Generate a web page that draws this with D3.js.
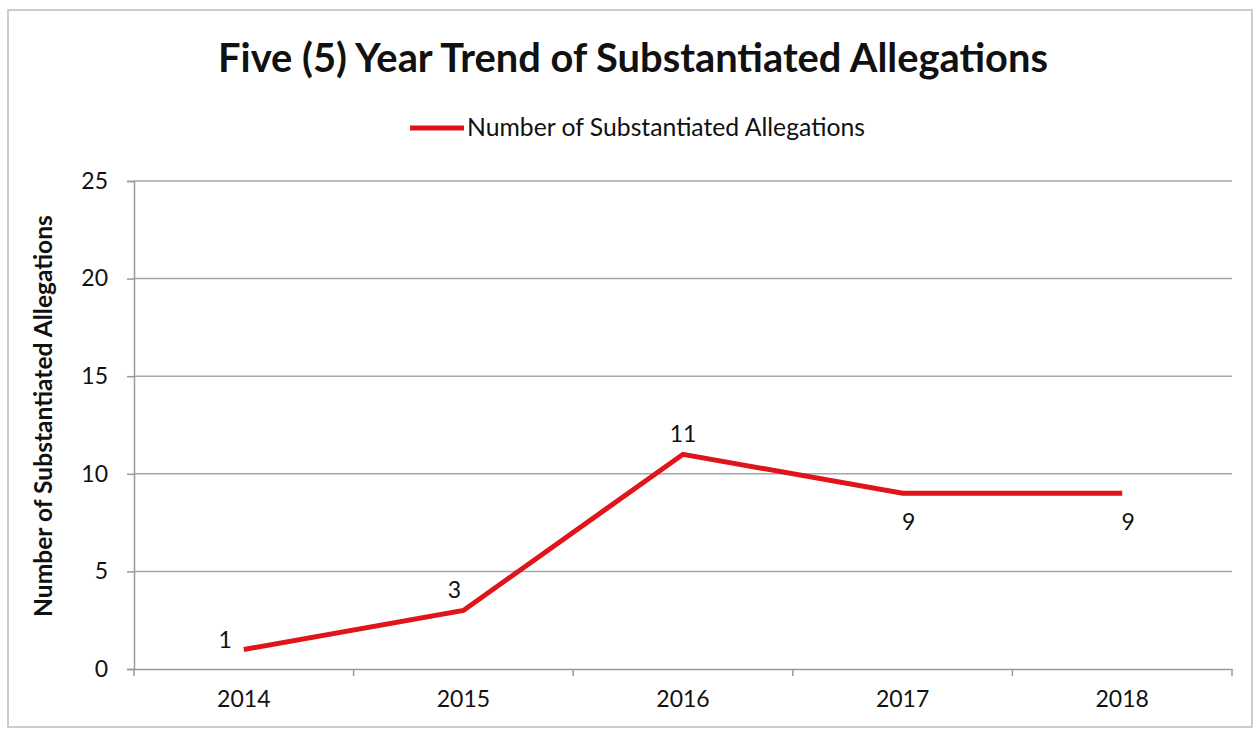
<!DOCTYPE html>
<html><head><meta charset="utf-8">
<script src="https://cdn.jsdelivr.net/npm/d3@7"></script>
<style>body{margin:0;background:#fff}svg{display:block}text{font-family:Lato,"Open Sans",sans-serif;fill:#111}</style>
</head><body><svg id="c" width="1255" height="730"></svg>
<script>
const title = "Five (5) Year Trend of Substantiated Allegations";
const seriesName = "Number of Substantiated Allegations";
const yAxisTitle = "Number of Substantiated Allegations";
const categories = ["2014","2015","2016","2017","2018"];
const values = [1,3,11,9,9];
const yTicks = [0,5,10,15,20,25];
const labelPlacement = ["left","above","above","below","below"];

const svg = d3.select("#c");
function fit(sel, target){
  const fs = parseFloat(sel.style("font-size"));
  const w = sel.node().getComputedTextLength();
  sel.style("font-size", (fs*target/w).toFixed(2)+"px");
}
svg.append("rect").attr("x",8).attr("y",10).attr("width",1244).attr("height",717)
  .attr("fill","#fff").attr("stroke","#bdbdbd").attr("stroke-width",1.5);

const m = {l:134, r:1232, t:181, b:669};
const x = d3.scaleBand().domain(categories).range([m.l,m.r]).padding(0);
const y = d3.scaleLinear().domain([0,25]).range([m.b,m.t]);
const FS = "23px";

svg.append("g").selectAll("line").data(yTicks.filter(d=>d>0)).join("line")
  .attr("x1",m.l).attr("x2",m.r).attr("y1",d=>y(d)).attr("y2",d=>y(d))
  .attr("stroke","#a6a6a6").attr("stroke-width",1.5);

const ya = svg.append("g").attr("transform",`translate(${m.l},0)`)
  .call(d3.axisLeft(y).tickValues(yTicks).tickSize(7).tickPadding(19));
ya.select(".domain").attr("stroke","#9a9a9a").attr("stroke-width",1.5);
ya.selectAll(".tick line").attr("stroke","#9a9a9a").attr("stroke-width",1.5);
ya.selectAll(".tick text").style("font-size",FS).attr("fill","#111");

const xa = svg.append("g").attr("transform",`translate(0,${m.b})`)
  .call(d3.axisBottom(x).tickSize(0).tickPadding(22));
xa.select(".domain").attr("stroke","#9a9a9a").attr("stroke-width",1.5);
xa.selectAll(".tick text").style("font-size",FS).attr("fill","#111");
const bounds = categories.map(c=>x(c)).concat([x(categories[categories.length-1])+x.bandwidth()]);
svg.append("g").selectAll("line").data(bounds).join("line")
  .attr("x1",d=>d).attr("x2",d=>d).attr("y1",m.b).attr("y2",m.b+7)
  .attr("stroke","#9a9a9a").attr("stroke-width",1.5);

const cx = c => x(c) + x.bandwidth()/2;
const line = d3.line().x((d,i)=>cx(categories[i])).y(d=>y(d));
svg.append("path").datum(values).attr("d",line)
  .attr("fill","none").attr("stroke","#e0141b").attr("stroke-width",5).attr("stroke-linejoin","miter");

svg.append("g").selectAll("text").data(values).join("text")
  .attr("x",(d,i)=>{const p=labelPlacement[i]; return p==="left"? cx(categories[i])-12 : cx(categories[i])+(i===1?-9:i>=3?6:0);})
  .attr("y",(d,i)=>{const p=labelPlacement[i]; return p==="left"? y(d)-1 : p==="above"? y(d)-12 : y(d)+37;})
  .attr("text-anchor",(d,i)=>labelPlacement[i]==="left"?"end":"middle")
  .style("font-size",FS).text(d=>d);

const t = svg.append("text").attr("x",633).attr("y",72).attr("text-anchor","middle")
  .style("font-size","34px").style("font-weight","bold").text(title);
fit(t, 830);

svg.append("line").attr("x1",410).attr("x2",464).attr("y1",128).attr("y2",128)
  .attr("stroke","#e0141b").attr("stroke-width",5);
const lt = svg.append("text").attr("x",467).attr("y",136).style("font-size","20px").text(seriesName);
fit(lt, 398);

const yt = svg.append("text").attr("transform","translate(52,416) rotate(-90)").attr("text-anchor","middle")
  .style("font-size","19px").style("font-weight","bold").text(yAxisTitle);
fit(yt, 402);
</script></body></html>
